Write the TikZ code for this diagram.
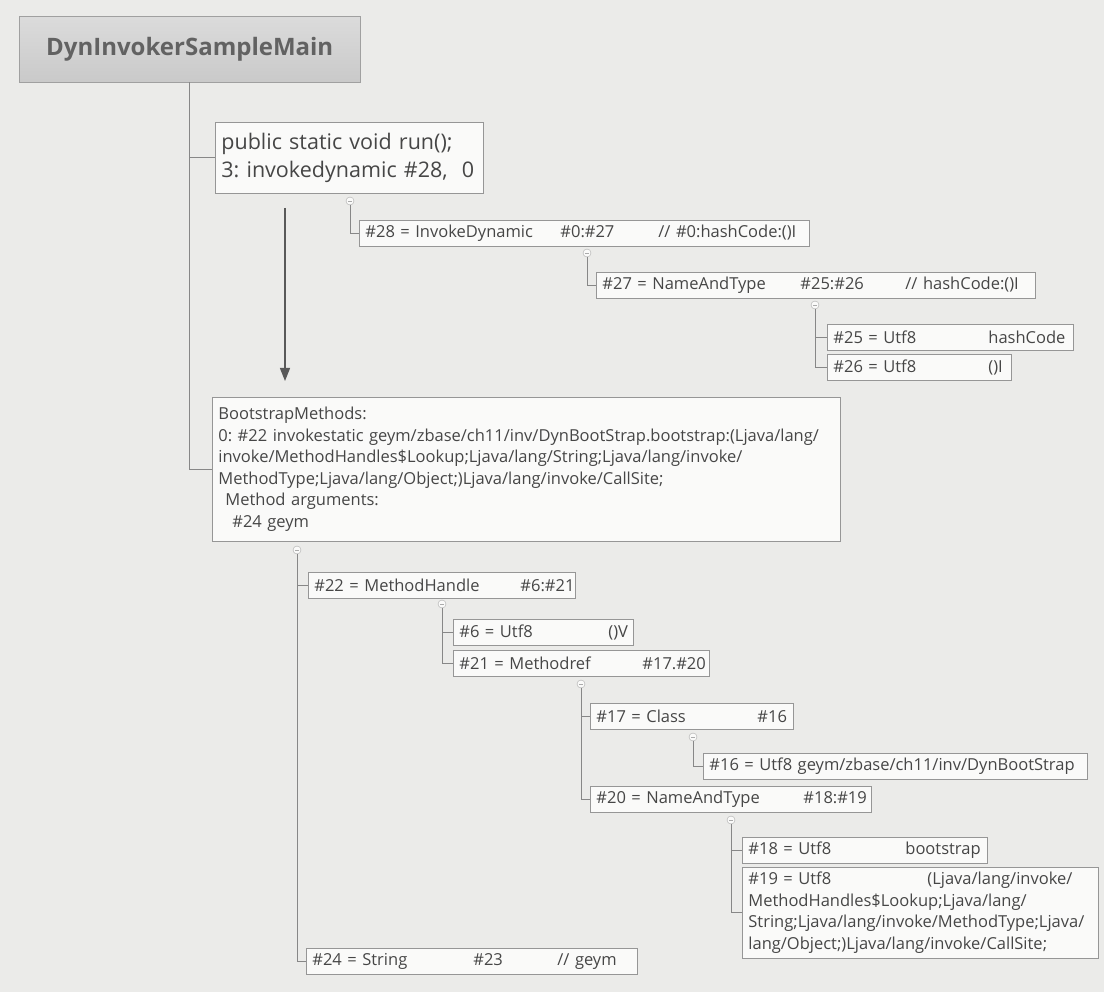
\documentclass[tikz,border=0pt]{standalone}
\usepackage{fontspec}
\setmainfont{Open Sans}
\usepackage{xcolor}
\usetikzlibrary{positioning,arrows.meta}

\definecolor{paper}{RGB}{235,235,233}
\definecolor{boxline}{RGB}{150,150,150}
\definecolor{boxfill}{RGB}{250,250,249}
\definecolor{ink}{RGB}{70,70,70}
\definecolor{wire}{RGB}{135,135,135}

\frenchspacing
\newcommand{\entryfont}{\fontsize{16.5}{21.5}\selectfont}
\newcommand{\tabcol}[2]{\makebox[#1pt][l]{#2}}

\tikzset{
  entry/.style={draw=boxline, fill=boxfill, text=ink, anchor=north west, align=left,
    inner xsep=6pt, inner ysep=0pt, minimum height=26pt, font=\entryfont, line width=0.8pt},
  link/.style={draw=wire, line width=1pt},
  fold/.style={circle, draw=wire!70, fill=boxfill, inner sep=0pt, minimum size=8pt,
    path picture={\draw[wire!70] ([xshift=-2pt]path picture bounding box.center)
      -- ([xshift=2pt]path picture bounding box.center);}},
  flow/.style={draw=ink!90, line width=1.3pt, -{Triangle[length=13pt,width=10pt]}},
}

\begin{document}
\begin{tikzpicture}[x=1pt, y=-1pt]
  \useasboundingbox (0,0) rectangle (1104,992);
  \fill[paper] (0,0) rectangle (1104,992);

  % class and its method
  \node[draw=boxline!90, top color=gray!28, bottom color=gray!42, text=ink!85, anchor=north west,
        minimum width=341pt, minimum height=66pt, font=\fontsize{24}{28}\selectfont\bfseries]
        (root) at (19,16) {DynInvokerSampleMain};
  \node[entry, text width=256pt, minimum height=71pt, font=\fontsize{21.5}{28}\selectfont]
        (run) at (215,122) {public static void run();\\3: invokedynamic \#28,\ \ 0};

  % bootstrap method table
  \node[entry, text width=616pt, minimum height=144pt] (boot) at (212,397)
        {BootstrapMethods:\\
         0: \#22 invokestatic geym/zbase/ch11/inv/DynBootStrap.bootstrap:(Ljava/lang/\\
         invoke/MethodHandles\$Lookup;Ljava/lang/String;Ljava/lang/invoke/\\
         MethodType;Ljava/lang/Object;)Ljava/lang/invoke/CallSite;\\
         \hspace*{7pt}Method arguments:\\
         \hspace*{14pt}\#24 geym};

  % constant pool entries
  \foreach \n/\x/\y/\w/\t in {
      c28/359/220/438/{\tabcol{195}{\#28 = InvokeDynamic}\tabcol{98}{\#0:\#27}// \#0:hashCode:()I},
      c27/596/272/427/{\tabcol{198}{\#27 = NameAndType}\tabcol{105}{\#25:\#26}// hashCode:()I},
      c25/827/324/234/{\tabcol{155}{\#25 = Utf8}hashCode},
      c26/827/354/172/{\tabcol{155}{\#26 = Utf8}()I},
      c22/308/572/255/{\tabcol{206}{\#22 = MethodHandle}\#6:\#21},
      c6/453/619/168/{\tabcol{149}{\#6 = Utf8}()V},
      c21/453/650/244/{\tabcol{183}{\#21 = Methodref}\#17.\#20},
      c17/590/703/191/{\tabcol{161}{\#17 = Class}\#16},
      c16/703/753/372/{\#16 = Utf8 geym/zbase/ch11/inv/DynBootStrap},
      c20/590/786/269/{\tabcol{207}{\#20 = NameAndType}\#18:\#19},
      c18/742/837/233/{\tabcol{157}{\#18 = Utf8}bootstrap},
      c24/306/948/319/{\tabcol{161}{\#24 = String}\tabcol{84}{\#23}// geym}} {
    \node[entry, text width=\w pt] (\n) at (\x,\y) {\t};
  }
  \node[entry, text width=344pt, minimum height=91pt] (c19) at (742,867)
        {\tabcol{179}{\#19 = Utf8}(Ljava/lang/invoke/\\
         MethodHandles\$Lookup;Ljava/lang/\\
         String;Ljava/lang/invoke/MethodType;Ljava/\\
         lang/Object;)Ljava/lang/invoke/CallSite;};

  % fold markers under expanded entries
  \node[fold] (f1) at (350,201) {};
  \node[fold] (f2) at (587,253) {};
  \node[fold] (f3) at (815,305) {};
  \node[fold] (f4) at (297,550) {};
  \node[fold] (f5) at (442,604) {};
  \node[fold] (f6) at (581,684) {};
  \node[fold] (f7) at (693,737) {};
  \node[fold] (f8) at (731,820) {};

  % tree links
  \draw[link] (root.south) |- (run.west);
  \draw[link] (root.south) |- (boot.west);
  \draw[link] (f1.south) |- (c28.west);
  \draw[link] (f2.south) |- (c27.west);
  \draw[link] (f3.south) |- (c25.west);
  \draw[link] (f3.south) |- (c26.west);
  \draw[link] (f4.south) |- (c22.west);
  \draw[link] (f4.south) |- (c24.west);
  \draw[link] (f5.south) |- (c6.west);
  \draw[link] (f5.south) |- (c21.west);
  \draw[link] (f6.south) |- (c17.west);
  \draw[link] (f6.south) |- (c20.west);
  \draw[link] (f7.south) |- (c16.west);
  \draw[link] (f8.south) |- (c18.west);
  \draw[link] (f8.south) |- (c19.west);

  % call site resolved through the bootstrap method
  \coordinate (callTop) at (285,208);
  \coordinate (callEnd) at (285,381);
  \draw[flow] (callTop) -- (callEnd);
\end{tikzpicture}
\end{document}
